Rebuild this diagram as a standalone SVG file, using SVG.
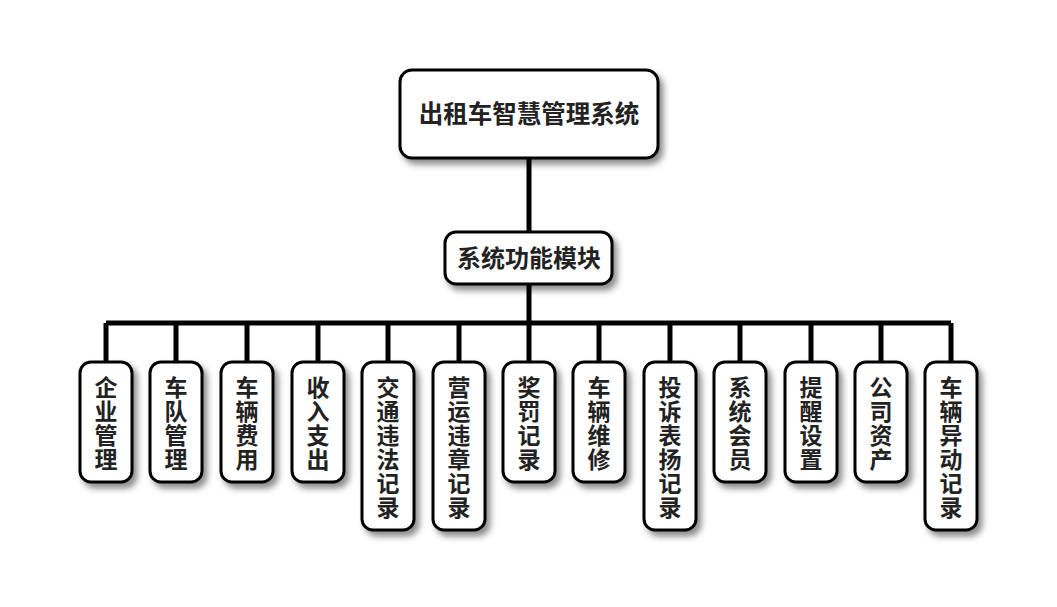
<svg xmlns="http://www.w3.org/2000/svg" width="1057" height="607" viewBox="0 0 1057 607">
<defs>
<filter id="sh" x="-30%" y="-30%" width="170%" height="170%">
<feDropShadow dx="4" dy="5" stdDeviation="3" flood-color="#000" flood-opacity="0.45"/>
</filter>
</defs>
<style>
.box{fill:#fff;stroke:#000;stroke-width:3;filter:url(#sh)}
.t{font-family:"Noto Sans CJK SC","Noto Sans",sans-serif;font-weight:bold;fill:#222;text-anchor:middle}
.c{font-size:23px}
.ln{stroke:#000;stroke-width:5;fill:none}
</style>
<rect width="1057" height="607" fill="#fff"/>
<g id="connectors">
<path class="ln" d="M529 158V233M529 284V323M106 323H951M106 323V362M176 323V362M247 323V362M318 323V362M388 323V362M459 323V362M529 323V362M599 323V362M670 323V362M740 323V362M811 323V362M881 323V362M951 323V362"/>
</g>
<g id="root"><rect class="box" x="400" y="70" width="258" height="88" rx="12"/><text class="t" x="529" y="123" font-size="24.5">出租车智慧管理系统</text></g>
<g id="module"><rect class="box" x="445" y="232" width="167" height="52" rx="11"/><text class="t" x="529" y="267" font-size="24">系统功能模块</text></g>
<g id="n1"><rect class="box" x="80" y="362" width="52" height="120" rx="11"/><text class="t c" x="106" y="396"><tspan x="106">企</tspan><tspan x="106" dy="24">业</tspan><tspan x="106" dy="24">管</tspan><tspan x="106" dy="24">理</tspan></text></g>
<g id="n2"><rect class="box" x="150" y="362" width="52" height="120" rx="11"/><text class="t c" x="176" y="396"><tspan x="176">车</tspan><tspan x="176" dy="24">队</tspan><tspan x="176" dy="24">管</tspan><tspan x="176" dy="24">理</tspan></text></g>
<g id="n3"><rect class="box" x="221" y="362" width="52" height="120" rx="11"/><text class="t c" x="247" y="396"><tspan x="247">车</tspan><tspan x="247" dy="24">辆</tspan><tspan x="247" dy="24">费</tspan><tspan x="247" dy="24">用</tspan></text></g>
<g id="n4"><rect class="box" x="292" y="362" width="52" height="120" rx="11"/><text class="t c" x="318" y="396"><tspan x="318">收</tspan><tspan x="318" dy="24">入</tspan><tspan x="318" dy="24">支</tspan><tspan x="318" dy="24">出</tspan></text></g>
<g id="n5"><rect class="box" x="362" y="362" width="52" height="168" rx="11"/><text class="t c" x="388" y="396"><tspan x="388">交</tspan><tspan x="388" dy="24">通</tspan><tspan x="388" dy="24">违</tspan><tspan x="388" dy="24">法</tspan><tspan x="388" dy="24">记</tspan><tspan x="388" dy="24">录</tspan></text></g>
<g id="n6"><rect class="box" x="433" y="362" width="52" height="168" rx="11"/><text class="t c" x="459" y="396"><tspan x="459">营</tspan><tspan x="459" dy="24">运</tspan><tspan x="459" dy="24">违</tspan><tspan x="459" dy="24">章</tspan><tspan x="459" dy="24">记</tspan><tspan x="459" dy="24">录</tspan></text></g>
<g id="n7"><rect class="box" x="503" y="362" width="52" height="120" rx="11"/><text class="t c" x="529" y="396"><tspan x="529">奖</tspan><tspan x="529" dy="24">罚</tspan><tspan x="529" dy="24">记</tspan><tspan x="529" dy="24">录</tspan></text></g>
<g id="n8"><rect class="box" x="573" y="362" width="52" height="120" rx="11"/><text class="t c" x="599" y="396"><tspan x="599">车</tspan><tspan x="599" dy="24">辆</tspan><tspan x="599" dy="24">维</tspan><tspan x="599" dy="24">修</tspan></text></g>
<g id="n9"><rect class="box" x="644" y="362" width="52" height="168" rx="11"/><text class="t c" x="670" y="396"><tspan x="670">投</tspan><tspan x="670" dy="24">诉</tspan><tspan x="670" dy="24">表</tspan><tspan x="670" dy="24">扬</tspan><tspan x="670" dy="24">记</tspan><tspan x="670" dy="24">录</tspan></text></g>
<g id="n10"><rect class="box" x="714" y="362" width="52" height="120" rx="11"/><text class="t c" x="740" y="396"><tspan x="740">系</tspan><tspan x="740" dy="24">统</tspan><tspan x="740" dy="24">会</tspan><tspan x="740" dy="24">员</tspan></text></g>
<g id="n11"><rect class="box" x="785" y="362" width="52" height="120" rx="11"/><text class="t c" x="811" y="396"><tspan x="811">提</tspan><tspan x="811" dy="24">醒</tspan><tspan x="811" dy="24">设</tspan><tspan x="811" dy="24">置</tspan></text></g>
<g id="n12"><rect class="box" x="855" y="362" width="52" height="120" rx="11"/><text class="t c" x="881" y="396"><tspan x="881">公</tspan><tspan x="881" dy="24">司</tspan><tspan x="881" dy="24">资</tspan><tspan x="881" dy="24">产</tspan></text></g>
<g id="n13"><rect class="box" x="925" y="362" width="52" height="168" rx="11"/><text class="t c" x="951" y="396"><tspan x="951">车</tspan><tspan x="951" dy="24">辆</tspan><tspan x="951" dy="24">异</tspan><tspan x="951" dy="24">动</tspan><tspan x="951" dy="24">记</tspan><tspan x="951" dy="24">录</tspan></text></g>
</svg>
